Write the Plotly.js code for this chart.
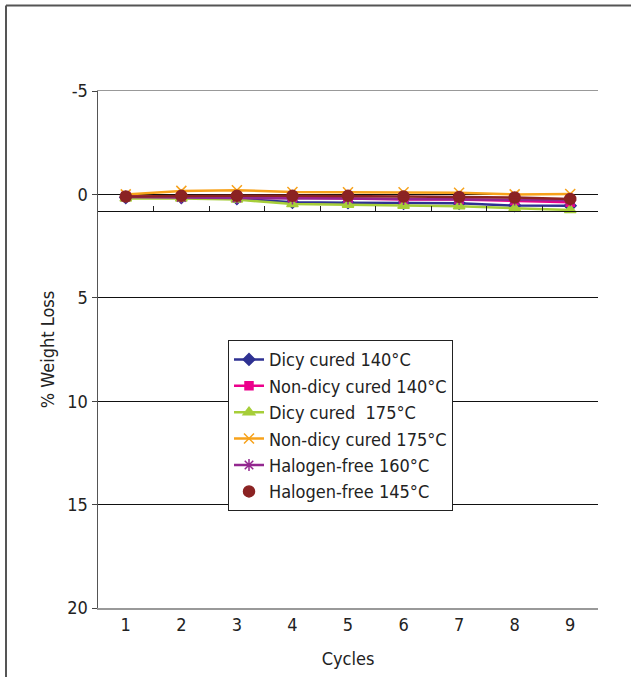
<!DOCTYPE html>
<html><head><meta charset="utf-8">
<script src="https://cdn.plot.ly/plotly-3.0.1.min.js"></script>
<style>body{margin:0;background:#fff}#c{width:631px;height:677px}</style>
</head><body><div id="c"></div>
<script>
const cycles = [1,2,3,4,5,6,7,8,9];
const dicy140 = [0.15,0.15,0.2,0.38,0.4,0.43,0.43,0.54,0.55];
const nondicy140 = [0.1,0.1,0.12,0.15,0.2,0.25,0.25,0.3,0.38];
const dicy175 = [0.2,0.2,0.25,0.47,0.5,0.55,0.57,0.67,0.75];
const nondicy175 = [0,-0.17,-0.2,-0.12,-0.1,-0.1,-0.08,0,-0.02];
const halogen160 = [0.12,0.15,0.17,0.2,0.2,0.22,0.22,0.25,0.28];
const halogen145 = [0.1,0.07,0.07,0.07,0.07,0.1,0.12,0.15,0.22];
const names = ['Dicy cured 140°C','Non-dicy cured 140°C','Dicy cured  175°C','Non-dicy cured 175°C','Halogen-free 160°C','Halogen-free 145°C'];
const yTicks = [-5,0,5,10,15,20];
const yTickText = ['-5','0','5','10','15','20'];

const F = '"DejaVu Sans Condensed","Liberation Sans Narrow",Arial,sans-serif';
function tr(y, name, color, symbol, size, mode, show, xa){
  return {x: cycles, y: y, name: name, type:'scatter', mode: mode, showlegend: show, xaxis: xa || 'x',
    line:{color: color, width: 2.5}, marker:{color: color, symbol: symbol, size: size, line:{color: color, width: 1.5}}};
}
const data = [
  tr(halogen145, names[5], '#8b2323', 'circle', 10, 'lines', false, 'x2'),
  tr(dicy140, names[0], '#2e3192', 'diamond', 9, 'lines+markers', true),
  tr(nondicy140, names[1], '#ec008c', 'square', 8, 'lines+markers', true),
  tr(dicy175, names[2], '#a6ce39', 'triangle-up', 10, 'lines+markers', true),
  tr(nondicy175, names[3], '#f7a21b', 'x-thin-open', 10, 'lines+markers', true),
  tr(halogen160, names[4], '#93278f', 'asterisk-open', 10, 'lines+markers', true),
  tr(halogen145, names[5], '#8b2323', 'circle', 11, 'markers', true)
];
const layout = {
  width: 631, height: 677,
  margin: {l: 98, r: 33, t: 91, b: 69},
  paper_bgcolor: '#fff', plot_bgcolor: '#fff',
  font: {family: F, color: '#222', size: 18},
  showlegend: true,
  legend: {x: 0.26, y: 0.518, xanchor: 'left', yanchor: 'top', bgcolor: '#fff',
    bordercolor: '#222', borderwidth: 1, font: {family: F, size: 18, color: '#222'},
    tracegroupgap: 0, itemwidth: 30},
  xaxis: {range: [0.5, 9.5], tickvals: cycles, ticktext: cycles.map(String), ticks: '', showgrid: false,
    zeroline: false, showline: true, linecolor: '#999', linewidth: 1.5, mirror: true,
    title: {text: 'Cycles', font: {family: F, size: 18}, standoff: 18}, tickfont: {family: F, size: 18}},
  xaxis2: {overlaying: 'x', anchor: 'free', position: 0.768, range: [0.5, 9.5],
    tickvals: [1.5,2.5,3.5,4.5,5.5,6.5,7.5,8.5], ticks: 'inside', ticklen: 5, tickcolor: '#222',
    showticklabels: false, showgrid: false, zeroline: false, showline: true, linecolor: '#111', linewidth: 1.5},
  yaxis: {range: [20, -5], tickvals: yTicks, ticktext: yTickText, ticks: 'outside', ticklen: 5, tickcolor: '#444',
    showgrid: true, gridcolor: '#111', gridwidth: 1, zeroline: false, showline: true, linecolor: '#555', linewidth: 1.5,
    title: {text: '% Weight Loss', font: {family: F, size: 18}, standoff: 8}, tickfont: {family: F, size: 18}},
  shapes: [
    {type: 'line', xref: 'paper', yref: 'paper', x0: -0.184, x1: 1.07, y0: 1.1654, y1: 1.1654, line: {color: '#555', width: 2}},
    {type: 'line', xref: 'paper', yref: 'paper', x0: -0.184, x1: -0.184, y0: 1.1654, y1: -0.14, line: {color: '#555', width: 2}}
  ]
};
Plotly.newPlot('c', data, layout, {displayModeBar: false, staticPlot: true});
</script></body></html>
